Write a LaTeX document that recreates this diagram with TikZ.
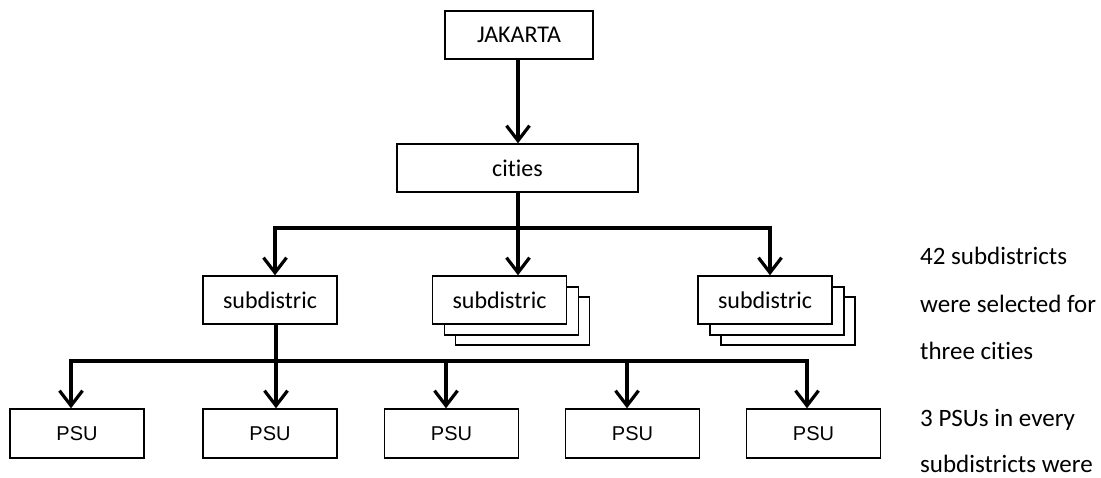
\documentclass[tikz,border=0pt]{standalone}
\usepackage{fontspec}
\setmainfont{Carlito}[Ligatures={NoCommon}]
\newfontfamily\arialfont{Liberation Sans}
\usetikzlibrary{arrows.meta}
\tikzset{
	box/.style={draw, line width=1.4pt, minimum height=48pt, inner sep=0pt, font=\fontsize{24}{28}\selectfont},
	psubox/.style={box, minimum width=134pt, minimum height=49pt, font=\arialfont\fontsize{20}{24}\selectfont},
	arrowline/.style={line width=3.2pt, -{Straight Barb[length=15pt,width=23pt,line width=3.2pt]}},
	busline/.style={line width=3.2pt},
	note/.style={anchor=base west, inner sep=0pt, font=\fontsize{25}{30}\selectfont}
}
\newcommand{\stackbox}[3] % name, x, y
{
	% two boxes behind the front one
	\draw[line width=1.4pt, fill=white] (#2-67+23,#3-24+21) rectangle (#2+67+23,#3+24+21);
	\draw[line width=1.4pt, fill=white] (#2-67+12,#3-24+11) rectangle (#2+67+12,#3+24+11);
	\node[box, fill=white, minimum width=134pt] (#1) at (#2,#3) {subdistric};
}

\begin{document}
\begin{tikzpicture}[x=1pt, y=-1pt]
	\useasboundingbox (0,0) rectangle (1101,477);
	% top levels
	\node[box, minimum width=148pt] (jakarta) at (519,35) {JAKARTA};
	\node[box, minimum width=241pt] (cities) at (517.5,168) {cities};
	% subdistricts
	\node[box, minimum width=134pt] (sub1) at (270,300) {subdistric};
	\stackbox{sub2}{499.5}{300}
	\stackbox{sub3}{765}{300}
	% PSUs
	\node[psubox] (psu1) at (77,433.5) {PSU};
	\node[psubox] (psu2) at (270,433.5) {PSU};
	\node[psubox] (psu3) at (451.5,433.5) {PSU};
	\node[psubox] (psu4) at (632.5,433.5) {PSU};
	\node[psubox] (psu5) at (813.5,433.5) {PSU};
	% connectors
	\coordinate (bus1) at (518,228);
	\coordinate (bus2) at (276,361);
	\draw[arrowline] ([xshift=-1pt]jakarta.south) -- ([xshift=0.5pt]cities.north);
	\draw[busline] ([xshift=0.5pt]cities.south) -- (bus1);
	\draw[arrowline] (bus1) -| ([xshift=5pt]sub1.north);
	\draw[arrowline] (bus1) -- ([xshift=18.5pt]sub2.north);
	\draw[arrowline] (bus1) -| ([xshift=5pt]sub3.north);
	\draw[busline] ([xshift=6pt]sub1.south) -- (bus2);
	\foreach \p/\dx in {psu1/-6, psu2/6, psu3/-5.5, psu4/-5.5, psu5/-6.5}
		\draw[arrowline] (bus2) -| ([xshift=\dx pt]\p.north);
	% notes
	\node[note] (n1) at (920,264) {42 subdistricts};
	\node[note] (n2) at (920,312) {were selected for};
	\node[note] (n3) at (920,359) {three cities};
	\node[note] (n4) at (920,426) {3 PSUs in every};
	\node[note] (n5) at (920,472) {subdistricts were};
\end{tikzpicture}
\end{document}
